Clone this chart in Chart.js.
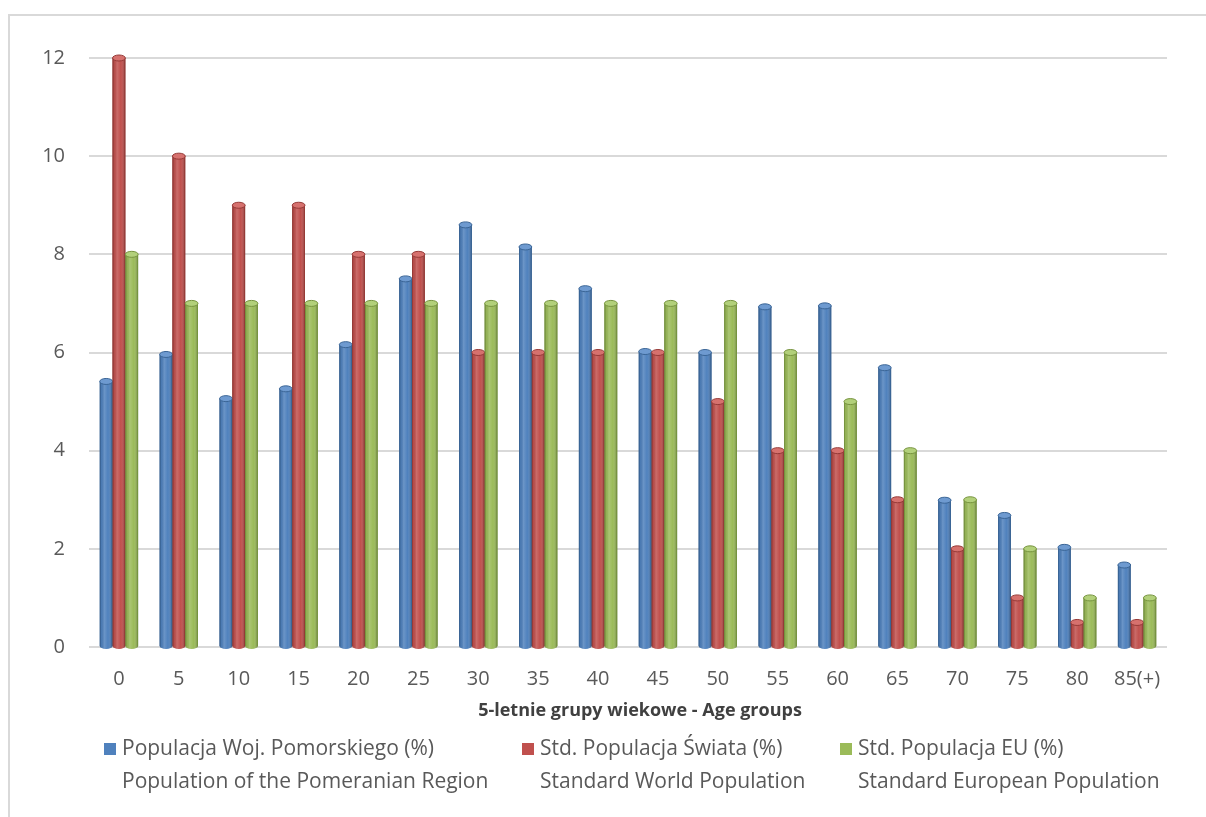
<!DOCTYPE html>
<html><head><meta charset="utf-8">
<script src="https://cdn.jsdelivr.net/npm/chart.js@4"></script>
<style>html,body{margin:0;padding:0;background:#fff;}</style>
</head><body>
<canvas id="c" width="1206" height="817"></canvas>
<script>
const ageGroups = ['0','5','10','15','20','25','30','35','40','45','50','55','60','65','70','75','80','85(+)'];
const pomeranian = [5.41, 5.96, 5.06, 5.26, 6.16, 7.50, 8.60, 8.15, 7.30, 6.02, 6.00, 6.93, 6.95, 5.69, 2.99, 2.68, 2.03, 1.67];
const worldStd   = [12, 10, 9, 9, 8, 8, 6, 6, 6, 6, 5, 4, 4, 3, 2, 1, 0.5, 0.5];
const euStd      = [8, 7, 7, 7, 7, 7, 7, 7, 7, 7, 7, 6, 5, 4, 3, 2, 1, 1];
const yTicks = [0, 2, 4, 6, 8, 10, 12];
const axisTitle = '5-letnie grupy wiekowe - Age groups';
const seriesLines = [
  ['Populacja Woj. Pomorskiego (%)', 'Population of the Pomeranian Region'],
  ['Std. Populacja Świata (%)', 'Standard World Population'],
  ['Std. Populacja EU (%)', 'Standard European Population']
];
const seriesColors = ['#4F81BD', '#C0504D', '#9BBB59'];
const seriesEdges  = ['#3A6596', '#963A37', '#77943F'];
const seriesTops   = ['#6E9AD0', '#D6716E', '#B2D07A'];

const FONT = '"Open Sans", Lato, sans-serif';
const TXT = '#595959';

const framePlugin = {
  id: 'frame',
  beforeDraw(chart) {
    const ctx = chart.ctx;
    ctx.save();
    ctx.fillStyle = '#fff';
    ctx.fillRect(0, 0, chart.width, chart.height);
    ctx.strokeStyle = '#d9d9d9';
    ctx.lineWidth = 2;
    ctx.beginPath();
    ctx.moveTo(9, chart.height);
    ctx.lineTo(9, 15);
    ctx.lineTo(chart.width, 15);
    ctx.stroke();
    ctx.restore();
  }
};

const cylinderPlugin = {
  id: 'cylinder',
  afterDatasetsDraw(chart) {
    const ctx = chart.ctx;
    ctx.save();
    chart.data.datasets.forEach((ds, di) => {
      const meta = chart.getDatasetMeta(di);
      meta.data.forEach(bar => {
        const p = bar.getProps(['x', 'y', 'base', 'width'], true);
        const l = p.x - p.width / 2, r = p.x + p.width / 2;
        const ry = 3;
        const g = ctx.createLinearGradient(l, 0, r, 0);
        g.addColorStop(0, 'rgba(0,0,0,0.30)');
        g.addColorStop(0.12, 'rgba(0,0,0,0.05)');
        g.addColorStop(0.35, 'rgba(255,255,255,0.16)');
        g.addColorStop(0.65, 'rgba(255,255,255,0.0)');
        g.addColorStop(1, 'rgba(0,0,0,0.32)');
        ctx.beginPath();
        ctx.ellipse(p.x, p.base, p.width / 2, ry, 0, 0, Math.PI);
        ctx.fillStyle = seriesColors[di];
        ctx.fill();
        ctx.beginPath();
        ctx.ellipse(p.x, p.base, p.width / 2, ry, 0, 0, Math.PI);
        ctx.fillStyle = g;
        ctx.fill();
        ctx.fillStyle = g;
        ctx.fillRect(l, p.y, p.width, p.base - p.y);
        ctx.strokeStyle = seriesEdges[di];
        ctx.lineWidth = 1;
        ctx.beginPath();
        ctx.moveTo(l + 0.5, p.y); ctx.lineTo(l + 0.5, p.base);
        ctx.moveTo(r - 0.5, p.y); ctx.lineTo(r - 0.5, p.base);
        ctx.stroke();
        ctx.beginPath();
        ctx.ellipse(p.x, p.y, p.width / 2, ry, 0, 0, 2 * Math.PI);
        ctx.fillStyle = seriesTops[di];
        ctx.fill();
        ctx.strokeStyle = seriesEdges[di];
        ctx.stroke();
      });
    });
    ctx.restore();
  }
};

const legendPlugin = {
  id: 'customLegend',
  afterDraw(chart) {
    const ctx = chart.ctx;
    ctx.save();
    const itemX = [104, 522, 840];
    const line1 = 749, line2 = 782;
    ctx.font = '21px ' + FONT;
    ctx.textBaseline = 'middle';
    ctx.textAlign = 'left';
    seriesLines.forEach((lines, i) => {
      ctx.fillStyle = seriesColors[i];
      ctx.fillRect(itemX[i], line1 - 6, 12, 12);
      ctx.fillStyle = TXT;
      ctx.fillText(lines[0], itemX[i] + 18, line1);
      ctx.fillText(lines[1], itemX[i] + 18, line2);
    });
    ctx.font = 'bold 18px ' + FONT;
    ctx.fillStyle = '#404040';
    ctx.textAlign = 'center';
    ctx.fillText(axisTitle, 640, 711);
    ctx.restore();
  }
};

new Chart(document.getElementById('c'), {
  type: 'bar',
  data: {
    labels: ageGroups,
    datasets: [
      { label: seriesLines[0].join(' '), data: pomeranian, backgroundColor: seriesColors[0] },
      { label: seriesLines[1].join(' '), data: worldStd, backgroundColor: seriesColors[1] },
      { label: seriesLines[2].join(' '), data: euStd, backgroundColor: seriesColors[2] }
    ]
  },
  options: {
    responsive: false,
    animation: false,
    devicePixelRatio: 1,
    layout: { padding: { top: 58, right: 39, bottom: 90, left: 0 } },
    datasets: { bar: { categoryPercentage: 0.64, barPercentage: 1.0, borderWidth: 0 } },
    plugins: { legend: { display: false }, tooltip: { enabled: false } },
    scales: {
      x: {
        grid: { display: false, drawTicks: false },
        border: { display: false },
        ticks: { color: TXT, font: { family: FONT, size: 20 }, padding: 20, maxRotation: 0, autoSkip: false },
        afterFit(scale) { scale.height = 80; }
      },
      y: {
        min: 0, max: 12,
        afterBuildTicks(scale) { scale.ticks = yTicks.map(v => ({ value: v })); },
        grid: { color: '#d9d9d9', lineWidth: 2, drawTicks: false },
        border: { display: false },
        ticks: { color: TXT, font: { family: FONT, size: 20 }, padding: 24 },
        afterFit(scale) { scale.width = 89; }
      }
    }
  },
  plugins: [framePlugin, cylinderPlugin, legendPlugin]
});
</script>
</body></html>
